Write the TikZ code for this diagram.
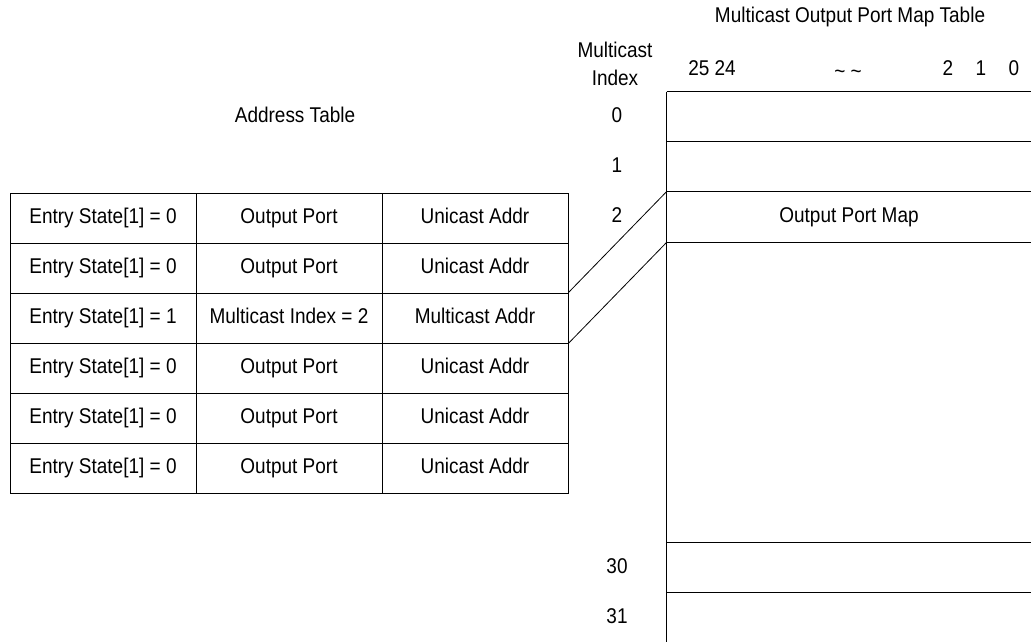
\documentclass[tikz,border=0pt]{standalone}
\usepackage{fontspec}
\setmainfont{Liberation Sans}[FakeStretch=0.89]
\usetikzlibrary{positioning}

\tikzset{
  txt/.style={font=\fontsize{16pt}{21pt}\selectfont, inner sep=0pt, text height=11.5pt, text depth=3.5pt},
  cell/.style={txt, draw, line width=0.6pt, minimum width=139.5pt, minimum height=37.5pt},
  maprow/.style={txt, minimum width=273pt, minimum height=37.5pt}
}

\begin{document}
\begin{tikzpicture}[x=0.75pt,y=-0.75pt,line width=0.6pt]
\useasboundingbox (0,0) rectangle (1031,642);
% address table
\node[txt] (addrtitle) at (295,117) {Address Table};
\foreach \r/\s/\p/\a in {0/0/Output Port/Unicast Addr,1/0/Output Port/Unicast Addr,
    2/1/Multicast Index = 2/Multicast Addr,3/0/Output Port/Unicast Addr,
    4/0/Output Port/Unicast Addr,5/0/Output Port/Unicast Addr}{
  \node[cell] (st\r) at (103,{218+50*\r}) {Entry State[1] = \s};
  \node[cell] (port\r) at (289,{218+50*\r}) {\p};
  \node[cell] (addr\r) at (475,{218+50*\r}) {\a};
}
% multicast output port map table
\node[txt] (maptitle) at (850,17) {Multicast Output Port Map Table};
\node[txt] (idxtitle) at (615,52) {Multicast};
\node[txt] (idxtitleb) at (615,80) {Index};
\node[txt] (b25) at (712,70) {25 24};
\node[txt] (bdots) at (848,73) {\char`~\ \char`~};
\node[txt] (b2) at (948,70) {2};
\node[txt] (b1) at (981,70) {1};
\node[txt] (b0) at (1014,70) {0};
\node[maprow] (map0) at (849,117) {};
\node[maprow] (map1) at (849,167) {};
\node[maprow] (map2) at (849,217) {Output Port Map};
\node[maprow] (map30) at (849,568) {};
\node[maprow] (map31) at (849,618) {};
\foreach \m in {0,1,2,30,31}{
  \draw (map\m.north west) -- (map\m.north east);
  \node[txt] (idx\m) at (617,{\m<3 ? 117+50*\m : 568+50*(\m-30)}) {\m};
}
\draw (map2.south west) -- (map2.south east);
\draw (map0.north west) -- (map31.south west);
% links
\draw (addr2.north east) -- (map2.north west);
\draw (addr2.south east) -- (map2.south west);
\end{tikzpicture}
\end{document}
